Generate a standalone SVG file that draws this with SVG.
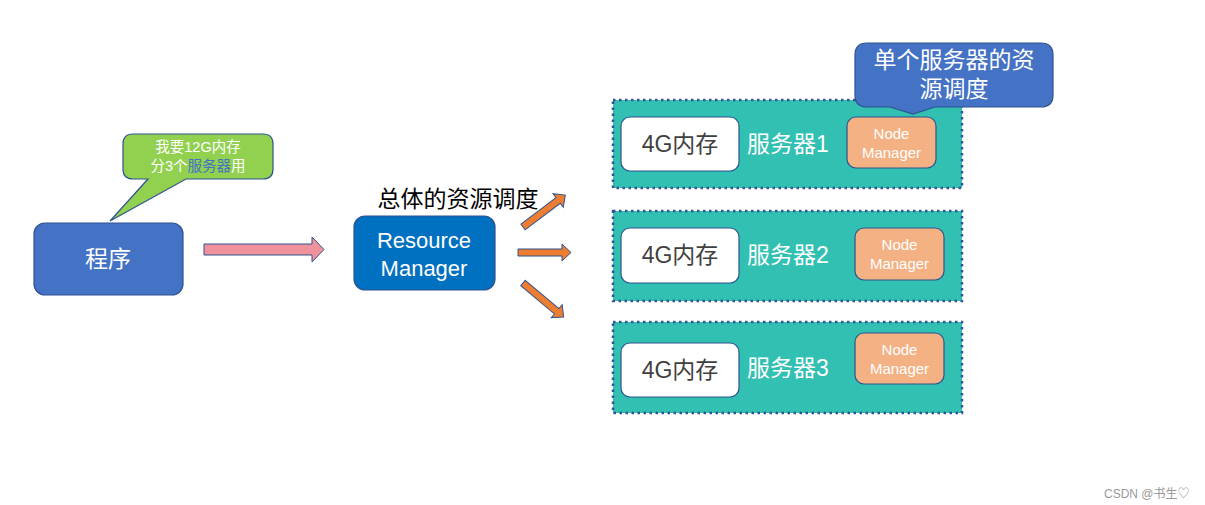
<svg xmlns="http://www.w3.org/2000/svg" width="1205" height="505" viewBox="0 0 1205 505">
<defs>
<style>
.t{font-family:"Liberation Sans","Noto Sans CJK SC",sans-serif;text-anchor:middle;dominant-baseline:central}
.w{fill:#ffffff}
.srv{fill:#31C0B2;stroke:#2F5597;stroke-width:2.5;stroke-dasharray:2.5,3.5}
.mem{fill:#ffffff;stroke:#2F528F;stroke-width:1.2}
.nm{fill:#F4B183;stroke:#2F528F;stroke-width:1.2}
.oa{fill:#ED7D31;stroke:#2F528F;stroke-width:1}
</style>
<path id="oarrow" d="M0,-3.5 H44 V-8.5 L53,0 L44,8.5 V3.5 H0 Z"/>
</defs>
<rect width="1205" height="505" fill="#ffffff"/>

<g id="program">
<rect x="34" y="223" width="149" height="72" rx="11" fill="#4472C4" stroke="#2F528F" stroke-width="1.2"/>
<text class="t w" x="108" y="259" font-size="23">程序</text>
</g>

<g id="callout-request">
<path d="M133,134 H263 Q273,134 273,144 V169 Q273,179 263,179 H186 L110,221 L148,179 H133 Q123,179 123,169 V144 Q123,134 133,134 Z" fill="#92D050" stroke="#2F528F" stroke-width="1.2"/>
<text class="t w" x="198" y="147" font-size="14.5">我要12G内存</text>
<text class="t w" x="198" y="166" font-size="14.5">分3个<tspan fill="#4472C4">服务器</tspan>用</text>
</g>

<g id="resource-manager">
<text class="t" x="458" y="199" font-size="23" fill="#000000">总体的资源调度</text>
<rect x="354" y="216" width="141" height="74" rx="11" fill="#0070C0" stroke="#2F528F" stroke-width="1.2"/>
<text class="t w" x="424" y="240" font-size="22">Resource</text>
<text class="t w" x="424" y="268" font-size="22">Manager</text>
</g>

<g id="connectors">
<path d="M204,244 H312 V237 L324,249.5 L312,262 V255 H204 Z" fill="#F0929B" stroke="#2F528F" stroke-width="1"/>
<use href="#oarrow" class="oa" transform="translate(523,227) rotate(-37)"/>
<use href="#oarrow" class="oa" transform="translate(518,252.5)"/>
<use href="#oarrow" class="oa" transform="translate(523,283) rotate(40)"/>
</g>

<g id="server1">
<rect class="srv" x="613" y="100" width="349" height="88"/>
<rect class="mem" x="621" y="117" width="118" height="54" rx="9"/>
<text class="t" x="680" y="144" font-size="23" fill="#404040">4G内存</text>
<text class="t w" x="788" y="144" font-size="23">服务器1</text>
<rect class="nm" x="847" y="117" width="89" height="51" rx="9"/>
<text class="t w" x="891.5" y="133" font-size="15">Node</text>
<text class="t w" x="891.5" y="152" font-size="15">Manager</text>
</g>

<g id="server2">
<rect class="srv" x="613" y="211" width="349" height="90"/>
<rect class="mem" x="621" y="228" width="118" height="55" rx="9"/>
<text class="t" x="680" y="255" font-size="23" fill="#404040">4G内存</text>
<text class="t w" x="788" y="255" font-size="23">服务器2</text>
<rect class="nm" x="855" y="228" width="89" height="52" rx="9"/>
<text class="t w" x="899.5" y="244" font-size="15">Node</text>
<text class="t w" x="899.5" y="263" font-size="15">Manager</text>
</g>

<g id="server3">
<rect class="srv" x="613" y="322" width="349" height="91"/>
<rect class="mem" x="621" y="343" width="118" height="54" rx="9"/>
<text class="t" x="680" y="370" font-size="23" fill="#404040">4G内存</text>
<text class="t w" x="788" y="368" font-size="23">服务器3</text>
<rect class="nm" x="855" y="333" width="89" height="51" rx="9"/>
<text class="t w" x="899.5" y="349" font-size="15">Node</text>
<text class="t w" x="899.5" y="368" font-size="15">Manager</text>
</g>

<g id="callout-node">
<path d="M867,43 H1041 Q1053,43 1053,55 V95 Q1053,107 1041,107 H935 L913,114 L890,107 H867 Q855,107 855,95 V55 Q855,43 867,43 Z" fill="#4472C4" stroke="#2F528F" stroke-width="1.2"/>
<text class="t w" x="954" y="60" font-size="23">单个服务器的资</text>
<text class="t w" x="954" y="89" font-size="23">源调度</text>
</g>

<text x="1104" y="494" font-family="'Liberation Sans','Noto Sans CJK SC',sans-serif" font-size="12" fill="#999999" dominant-baseline="central">CSDN @书生♡</text>
</svg>
